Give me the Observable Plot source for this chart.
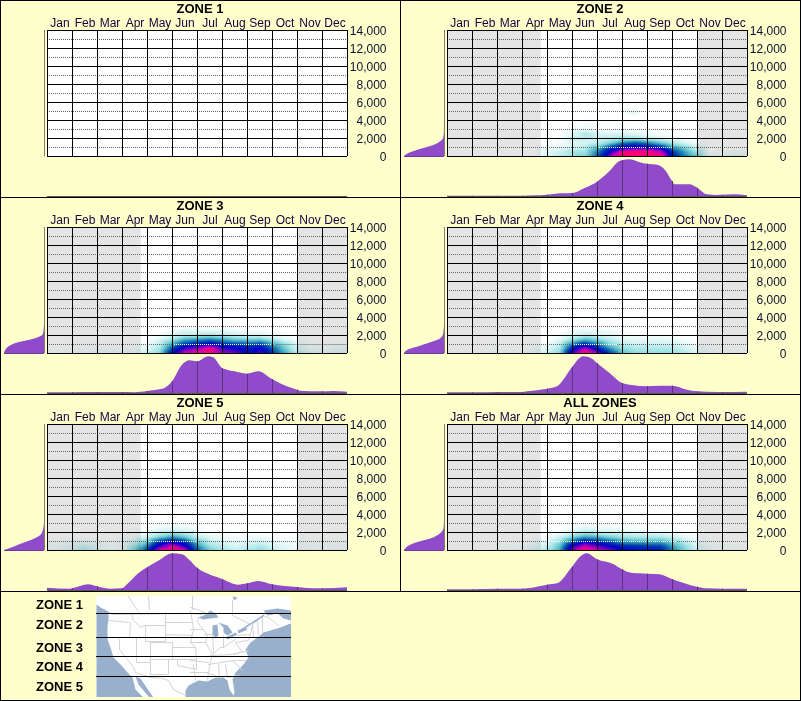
<!DOCTYPE html>
<html><head><meta charset="utf-8">
<script src="https://cdn.jsdelivr.net/npm/d3@7"></script>
<script src="https://cdn.jsdelivr.net/npm/@observablehq/plot@0.6"></script>
<style>
html,body{margin:0;padding:0;background:#ffffcc;}
#chart{position:relative;width:801px;height:701px;background:#ffffcc;overflow:hidden;font-family:"Liberation Sans",Arial,sans-serif;}
#chart svg{position:absolute;background:transparent;max-width:none;}
.ln{position:absolute;background:#000;}
.ttl{position:absolute;width:400px;text-align:center;font-weight:bold;font-size:13px;line-height:13px;color:#000;}
.zl{position:absolute;left:0;width:83px;text-align:right;font-weight:bold;font-size:13px;line-height:15px;color:#000;}
</style></head><body><div id="chart"></div>
<script>
const months=["Jan","Feb","Mar","Apr","May","Jun","Jul","Aug","Sep","Oct","Nov","Dec"];
const monthCenters=[0.5,1.5,2.5,3.5,4.5,5.5,6.5,7.5,8.5,9.5,10.5,11.5];
const monthEdges=[0,1,2,3,4,5,6,7,8,9,10,11,12];
const elevTicks=[0,2000,4000,6000,8000,10000,12000,14000];
const elevDotted=[3000,5000,7000,9000,11000,13000];
const heatColumns=[0,.5,1,1.5,2,2.5,3,3.5,4,4.5,5,5.5,6,6.5,7,7.5,8,8.5,9,9.5,10,10.5,11,11.5,12];
const heatElevs=[0,500,1000,1500,2000,2500,3000];
const heatElevsZone2=[0,500,1000,1500,2000,2500,3000,4500,5000,5500];
const colorStops=[0,1,2,3,4,5,6,7,8,9];
const colorRamp=["#ffffff","#d8f4f4","#a0e4e6","#5fc0cc","#1a7fb0","#0030b0","#0000c8","#7000c0","#d800a8","#ff0070"];
const greyBands=[[0,3.75],[10,12]];

const heatZone2=[
[0,0,0,0,0,0,0,0,1,1.5,2,2.5,4.5,7.5,9,9,9,9,5.5,4,3,.5,.5,1,.5],
[0,0,0,0,0,0,0,0,.8,1.2,2,2,4,6,8.5,9,9,8,5,3.5,2,0,.2,.4,.2],
[0,0,0,0,0,0,0,0,.3,.6,1,1.5,3,5,6,6.3,6.2,5.5,3.5,2.5,1,0,0,0,0],
[0,0,0,0,0,0,0,0,0,.3,.8,1,1.5,2.5,4,4.5,4,3,1.8,1,.3,0,0,0,0],
[0,0,0,0,0,0,0,0,0,.2,1.5,1.5,1.2,1.5,2,2,1.5,1,.5,.2,0,0,0,0,0],
[0,0,0,0,0,0,0,0,0,0,.8,1.8,1,1,1,.8,.5,.2,0,0,0,0,0,0,0],
[0,0,0,0,0,0,0,0,0,0,.1,.5,.2,.1,.1,.1,0,0,0,0,0,0,0,0,0],
[0,0,0,0,0,0,0,0,0,0,0,0,0,0,0,0,0,0,0,0,0,0,0,0,0],
[0,0,0,0,0,0,0,0,0,0,0,0,0,0,0,.8,0,0,0,0,0,0,0,0,0],
[0,0,0,0,0,0,0,0,0,0,0,0,0,0,0,0,0,0,0,0,0,0,0,0,0]];
const heatZone3=[
[.1,.1,.2,.3,.4,.4,.4,.5,1.5,2.5,6,8,8.5,9,7.5,7,5.8,6.8,5,3.5,1.8,.8,.5,.7,.8],
[.1,.1,.2,.2,.3,.3,.3,.3,.8,2,4.8,6.8,7.5,8.8,6.6,6.2,5.5,6,4.5,2.8,1,.5,.3,.5,.6],
[0,0,.1,.1,.1,.1,.1,.1,.5,1.5,3.5,5,5.6,6.2,5.3,5,4.6,5,3.5,2.2,.7,.2,.2,.3,.3],
[0,0,0,0,0,0,0,0,.2,1,2.2,3.5,3.8,4.2,3.6,3,2.8,3,2,1,.3,0,0,0,0],
[0,0,0,0,0,0,0,0,0,.2,1,1.6,1.8,2,1.7,1.3,1,1,.7,.3,0,0,0,0,0],
[0,0,0,0,0,0,0,0,0,0,.4,1,.7,.7,.7,.5,.3,.3,.1,0,0,0,0,0,0],
[0,0,0,0,0,0,0,0,0,0,0,0,0,0,0,0,0,0,0,0,0,0,0,0,0]];
const heatZone4=[
[.1,.1,.1,.1,.1,.2,.2,.6,1.5,2.5,7,9.2,7.5,5,3,2.3,2.2,2.2,2.2,1.8,.8,.3,.2,.2,.2],
[0,0,0,0,.1,.1,.1,.3,.8,2,5.5,7.8,5.7,3.8,2.3,1.8,1.8,1.8,1.8,1.2,.5,.2,.1,.1,.1],
[0,0,0,0,0,0,0,.1,.4,1.5,4,5.5,4.2,2.5,1.5,1.2,1.2,1.2,1.2,.8,.2,0,0,0,0],
[0,0,0,0,0,0,0,0,0,.8,2.2,3.3,2.5,1.5,.9,.7,.7,.8,.6,.3,0,0,0,0,0],
[0,0,0,0,0,0,0,0,0,.2,1,1.5,1.2,.8,.4,.2,.2,.2,.1,0,0,0,0,0,0],
[0,0,0,0,0,0,0,0,0,0,.4,.7,.6,.4,.1,0,0,0,0,0,0,0,0,0,0],
[0,0,0,0,0,0,0,0,0,0,0,0,0,0,0,0,0,0,0,0,0,0,0,0,0]];
const heatZone5=[
[.5,.5,1,1.8,1,.3,.5,2.8,5,8.2,9,8,4.5,2.8,2,1.3,1.8,2.3,1.5,.9,.5,.3,.3,.4,.5],
[.3,.4,.7,1.2,.7,.2,.4,2,4,6.5,8,6.2,3.8,2,1.4,.9,1.3,1.7,1,.6,.3,.2,.2,.2,.3],
[.2,.2,.4,.5,.4,.1,.2,1,2.8,5,5.8,5,2.8,1.3,.9,.6,.8,1,.6,.3,.2,.1,.1,.1,.2],
[0,0,0,0,0,0,.1,.4,1.3,2.6,3.6,2.7,1.5,.7,.4,.3,.4,.4,.3,.1,0,0,0,0,0],
[0,0,0,0,0,0,0,.1,.5,1.2,1.7,1.3,.6,.2,.1,0,0,0,0,0,0,0,0,0,0],
[0,0,0,0,0,0,0,0,.1,.5,.8,.5,.2,0,0,0,0,0,0,0,0,0,0,0,0],
[0,0,0,0,0,0,0,0,0,0,0,0,0,0,0,0,0,0,0,0,0,0,0,0,0]];
const heatAll=[
[.2,.1,.1,.1,.2,.3,.5,1.2,2,3.5,7.2,9,8,7.2,6,5.7,5.6,5.5,4,2.6,1.2,.4,.2,.3,.3],
[0,0,0,0,.1,.1,.2,.5,1.3,3,6.2,7.8,6.8,5.9,5.2,5,4.8,4.8,3.5,2.2,.8,.2,.1,.1,.1],
[0,0,0,0,0,0,0,.2,.8,2.2,4.3,5.8,5.2,4.5,3.6,3.3,3.2,3.2,2.4,1.4,.4,0,0,0,0],
[0,0,0,0,0,0,0,0,.3,1.2,2.5,3.5,3.2,2.5,2,1.8,1.8,1.8,1.3,.6,.1,0,0,0,0],
[0,0,0,0,0,0,0,0,0,.3,1,1.7,1.4,1.1,.9,.7,.7,.6,.4,.1,0,0,0,0,0],
[0,0,0,0,0,0,0,0,0,0,.4,.8,.6,.5,.3,.2,.1,0,0,0,0,0,0,0,0],
[0,0,0,0,0,0,0,0,0,0,0,.1,0,0,0,0,0,0,0,0,0,0,0,0,0]];

/* month, relative count */
const seasonZone2=[[0,1],[1,1],[2,1],[3,1],[3.5,2],[4,4],[4.5,8],[5,9],[5.5,24],[6,43],[6.5,75],[6.9,105],[7,107],[7.3,110],[7.85,98],[8,97],[8.45,93],[8.8,70],[9,45],[9.1,35],[9.7,35],[10,25],[10.4,5],[10.8,3],[11,3.5],[11.45,5],[12,2]];
const seasonZone3=[[0,2],[1,2.5],[2,3],[3,3],[3.5,2.5],[4,6],[4.5,11],[4.7,15],[5,35],[5.4,85],[5.7,98],[6,95],[6.45,110],[6.65,107],[7,75],[7.2,70],[7.5,65],[8,58],[8.45,65],[9,42],[9.6,20],[10,10],[10.1,7],[11,5],[11.45,6],[12,4]];
const seasonZone4=[[0,2],[1,2],[2,3],[3,3],[3.2,5],[4,13],[4.4,20],[4.65,40],[5,78],[5.45,110],[5.8,103],[6,90],[6.5,60],[7,30],[7.4,24],[8,20],[8.5,22],[9,22],[9.6,10],[10,5],[10.8,3],[11,3],[12,4]];
const seasonZone5=[[0,7],[.9,4],[1,5],[1.65,17],[2,11],[2.5,4],[3,5],[3.2,17],[3.65,50],[4,68],[4.5,90],[5,110],[5.4,107],[5.7,90],[6,67],[6.4,50],[7,33],[7.65,16],[8,20],[8.45,27],[9,17],[10,9],[10.8,5],[11,5],[12,8]];
const seasonAll=[[0,2],[1,2],[2,4],[3,4],[3.2,5],[4,16],[4.4,20],[5,70],[5.4,105],[5.6,110],[6,92],[6.65,78],[7,62],[7.2,55],[7.7,50],[8,49],[8.5,47],[9,33],[10,10],[10.4,5],[11,4],[11.5,4],[12,4]];

/* elevation, relative count */
const elevZone2=[[0,100],[407,85],[780,60],[1220,27],[1590,11],[1960,2.5],[2700,.3],[5100,0]];
const elevZone3=[[0,100],[667,91],[1150,69],[1590,27],[2150,2.5],[3260,0]];
const elevZone4=[[0,100],[407,89],[815,60],[1300,27],[1590,11],[2070,2.5],[3070,0]];
const elevZone5=[[0,100],[220,85],[667,60],[1220,27],[1780,7],[2700,.8],[3070,0]];
const elevAll=[[0,100],[480,89],[850,69],[1400,27],[1960,7],[2520,.8],[3260,0]];

/* stretches of the 1,000 line that show as white dots */
const whiteDotsZone2=[6,9];
const whiteDotsZone3=[5,9.1];
const whiteDotsZone4=[5,6.8];
const whiteDotsZone5=[4,6];
const whiteDotsAll=[4,9.2];

const zoneTitles=["ZONE 1","ZONE 2","ZONE 3","ZONE 4","ZONE 5","ALL ZONES"];
const zoneKeyLabels=["ZONE 1","ZONE 2","ZONE 3","ZONE 4","ZONE 5"];
const zoneKeyTops=[597,617,639.5,659,678.5];
const zoneLimits=[17,41,60,80];

/* map outlines, in map units */
const pacific=[[0,8],[4,11],[10,14],[16,18],[12,17],[12,23],[11,30],[11,43],[14,51],[17,61],[24,68],[31,76],[36,81],[39,93],[47,101],[0,101]];
const gulfCalifornia=[[39,80],[44,82],[50,91],[57,101],[53,101],[47,94],[42,88]];
const atlantic=[[89,101],[89,94],[92,89],[94,88],[102,84],[111,85],[119,81],[127,81],[131,84],[133,93],[137,99],[138,96],[136,83],[139,76],[147,68],[152,61],[149,53],[154,46],[161,41],[167,36],[184,31],[194,27],[195,27],[195,101]];
const stLawrence=[[167,14],[181,12],[195,14],[195,24],[187,22],[181,17],[171,19]];
const hudson=[[136,0],[141,1],[138,4]];
const superior=[[102,21],[109,18],[114,14],[120,18],[122,21],[114,22],[107,23]];
const michigan=[[116,29],[121,28],[122,39],[119,41],[116,38]];
const huron=[[122,26],[131,29],[136,36],[131,39],[127,36],[127,31]];
const erie=[[129,41],[139,36],[141,38],[131,43]];
const ontario=[[141,34],[149,31],[151,33],[142,37]];
const mapWaters=[pacific,gulfCalifornia,atlantic,stLawrence,hudson,superior,michigan,huron,erie,ontario];
const stRiver=[[144,34],[161,23],[167,19]];
const borders=[
[[32,0],[39,11],[44,18]],[[52,0],[53,13]],[[96,0],[96,13]],[[136,4],[136,19],[152,27]],[[94,11],[101,13],[108,16]],
[[16,18],[96,17],[105,18]],[[12,24],[32,26]],[[35,18],[37,24],[44,31],[49,29]],[[34,26],[33,41]],[[13,41],[33,41]],
[[23,43],[23,53],[37,71],[39,76]],[[40,41],[40,66],[54,66]],[[54,46],[54,78]],[[49,29],[69,29],[69,45],[49,45],[49,29]],
[[40,41],[49,41]],[[49,45],[54,45]],[[54,46],[76,46],[76,63],[54,63]],[[72,63],[72,78],[54,78]],
[[39,76],[54,81],[66,82],[72,84],[77,93],[89,99]],[[69,26],[96,26]],[[69,38],[96,39]],[[76,51],[99,51]],[[72,63],[100,63]],[[69,16],[69,29]],
[[81,63],[81,69],[100,73]],[[94,14],[96,26]],[[94,33],[107,33]],[[102,21],[101,26],[107,33]],[[94,46],[109,46]],
[[96,26],[97,33],[94,46],[99,51],[100,63],[100,73]],
[[107,33],[111,39],[109,46],[116,58],[114,66],[112,76],[111,84]],[[108,38],[116,38]],[[116,38],[117,53],[117,56]],[[127,39],[127,51]],
[[116,58],[124,51],[127,51],[134,46],[139,43]],[[114,59],[136,58],[144,56]],[[136,58],[152,54]],[[112,68],[137,64]],[[137,64],[150,64]],
[[122,68],[123,81]],[[129,68],[131,81]],[[131,81],[142,79]],[[136,64],[146,74]],[[109,76],[119,79]],[[97,69],[99,84]],[[94,64],[112,66]],[[94,76],[111,76]],
[[141,39],[154,38],[152,44],[139,46]],[[156,28],[157,41]],[[161,26],[162,38]],[[166,36],[166,19],[172,21],[182,29]],[[139,46],[146,56]],[[154,38],[156,28],[161,24]]
];

const panels=[
 {col:0,row:0,title:zoneTitles[0],grey:[],heat:[],elevs:heatElevs,season:[],elevProfile:[],white:null},
 {col:1,row:0,title:zoneTitles[1],grey:greyBands,heat:heatZone2,elevs:heatElevsZone2,season:seasonZone2,elevProfile:elevZone2,white:whiteDotsZone2},
 {col:0,row:1,title:zoneTitles[2],grey:greyBands,heat:heatZone3,elevs:heatElevs,season:seasonZone3,elevProfile:elevZone3,white:whiteDotsZone3},
 {col:1,row:1,title:zoneTitles[3],grey:greyBands,heat:heatZone4,elevs:heatElevs,season:seasonZone4,elevProfile:elevZone4,white:whiteDotsZone4},
 {col:0,row:2,title:zoneTitles[4],grey:greyBands,heat:heatZone5,elevs:heatElevs,season:seasonZone5,elevProfile:elevZone5,white:whiteDotsZone5},
 {col:1,row:2,title:zoneTitles[5],grey:greyBands,heat:heatAll,elevs:heatElevs,season:seasonAll,elevProfile:elevAll,white:whiteDotsAll}
];

const chart=document.getElementById("chart");
const FONT='"Liberation Sans",Arial,sans-serif';
const PURPLE="#8f4bc9";
function place(svg,left,top){svg.style.left=left+"px";svg.style.top=top+"px";chart.appendChild(svg);}
function hline(l,t,w,h){const d=document.createElement("div");d.className="ln";d.style.cssText=`left:${l}px;top:${t}px;width:${w}px;height:${h}px`;chart.appendChild(d);}

for(const p of panels){
  const ox=p.col*400, oy=p.row*197;
  const t=document.createElement("div");t.className="ttl";t.textContent=p.title;
  t.style.left=ox+"px";t.style.top=(oy+2)+"px";chart.appendChild(t);

  const cells=p.heat.flatMap((r,i)=>r.map((v,j)=>({m:heatColumns[j],e:p.elevs[i],v})));
  const dotted1000=p.white?[[0,p.white[0]],[p.white[1],12]]:[[0,12]];
  const main=Plot.plot({
    width:354,height:150,marginLeft:1,marginRight:53,marginTop:14,marginBottom:10,
    style:{background:"transparent",fontFamily:FONT,fontSize:"12px"},
    x:{domain:[0,12]},y:{domain:[0,14000]},
    color:{type:"linear",domain:colorStops,range:colorRamp,clamp:true},
    marks:[
      Plot.rect([[0,12]],{x1:d=>d[0],x2:d=>d[1],y1:0,y2:14000,fill:"#fff"}),
      Plot.rect(p.grey,{x1:d=>d[0],x2:d=>d[1],y1:0,y2:14000,fill:"#e4e4e4"}),
      cells.length?Plot.raster(cells,{x:"m",y:"e",fill:"v",interpolate:"barycentric",mixBlendMode:"multiply"}):null,
      Plot.ruleY(elevDotted,{stroke:"#666",strokeDasharray:"1,1"}),
      Plot.ruleY(dotted1000,{y:()=>1000,x1:d=>d[0],x2:d=>d[1],stroke:"#666",strokeDasharray:"1,1"}),
      p.white?Plot.ruleY([p.white],{y:()=>1000,x1:d=>d[0],x2:d=>d[1],stroke:"#fff",strokeDasharray:"1,1"}):null,
      Plot.ruleY(elevTicks,{stroke:"#000"}),
      Plot.ruleX(monthEdges,{stroke:"#000"}),
      Plot.axisX(monthCenters,{anchor:"top",label:null,tickSize:0,tickPadding:4,tickFormat:d=>months[monthCenters.indexOf(d)],fontSize:12,fill:"#14003c"}),
      Plot.axisY(elevTicks,{anchor:"right",label:null,tickSize:0,tickPadding:39,textAnchor:"end",dy:1,tickFormat:d3.format(","),fontSize:12,fill:"#0a1030"})
    ]
  });
  place(main,ox+46,oy+16);

  const left=Plot.plot({
    width:44,height:141,marginLeft:2,marginRight:2,marginTop:14,marginBottom:1,
    style:{background:"transparent"},
    x:{axis:null,domain:[100,0]},y:{axis:null,domain:[0,14000]},
    marks:[
      Plot.areaX(p.elevProfile,{x:d=>d[1],y:d=>d[0],fill:PURPLE,curve:"monotone-y"}),
      p.elevProfile.length?Plot.ruleY([0],{x1:0,x2:100,stroke:"#6a3a96"}):null,
      Plot.ruleX([0],{y1:0,y2:14000,stroke:"#7f7f6f"})
    ]
  });
  place(left,ox+2,oy+16);

  const bottom=Plot.plot({
    width:354,height:39,marginLeft:1,marginRight:53,marginTop:1.33,marginBottom:1,
    style:{background:"transparent"},
    x:{axis:null,domain:[0,12]},y:{axis:null,domain:[0,110]},
    marks:[
      Plot.areaY(p.season,{x:d=>d[0],y:d=>d[1],fill:PURPLE,curve:"monotone-x"}),
      Plot.ruleX(p.season.filter(d=>Number.isInteger(d[0])&&d[0]>0&&d[0]<12),{x:d=>d[0],y1:0,y2:d=>d[1],stroke:"#5e3080"}),
      Plot.ruleY([0],{x1:0,x2:12,stroke:"#5a5a40"})
    ]
  });
  place(bottom,ox+46,oy+158);
}

/* panel borders */
hline(0,0,801,1);hline(0,197,801,1);hline(0,394,801,1);hline(0,591,801,1);hline(0,700,801,1);
hline(0,0,1,701);hline(800,0,1,701);hline(400,0,1,591);

/* zone key */
zoneKeyLabels.forEach((s,i)=>{const d=document.createElement("div");d.className="zl";d.textContent=s;d.style.top=zoneKeyTops[i]+"px";chart.appendChild(d);});

const map=Plot.plot({
  width:195,height:101,margin:0,
  style:{background:"transparent"},
  x:{axis:null,domain:[0,195]},y:{axis:null,domain:[0,101],range:[0,101]},
  marks:[
    Plot.rect([[0,195]],{x1:d=>d[0],x2:d=>d[1],y1:0,y2:101,fill:"#fefefe"}),
    ...mapWaters.map(w=>Plot.line(w.concat([w[0]]),{x:d=>d[0],y:d=>d[1],fill:"#98b0cc",stroke:"none"})),
    ...borders.map(b=>Plot.line(b,{x:d=>d[0],y:d=>d[1],stroke:"#d4d4d4",strokeWidth:1})),
    Plot.line(stRiver,{x:d=>d[0],y:d=>d[1],stroke:"#98b0cc",strokeWidth:1.5}),
    Plot.ruleY(zoneLimits,{stroke:"#000"})
  ]
});
place(map,96,596);
</script></body></html>
